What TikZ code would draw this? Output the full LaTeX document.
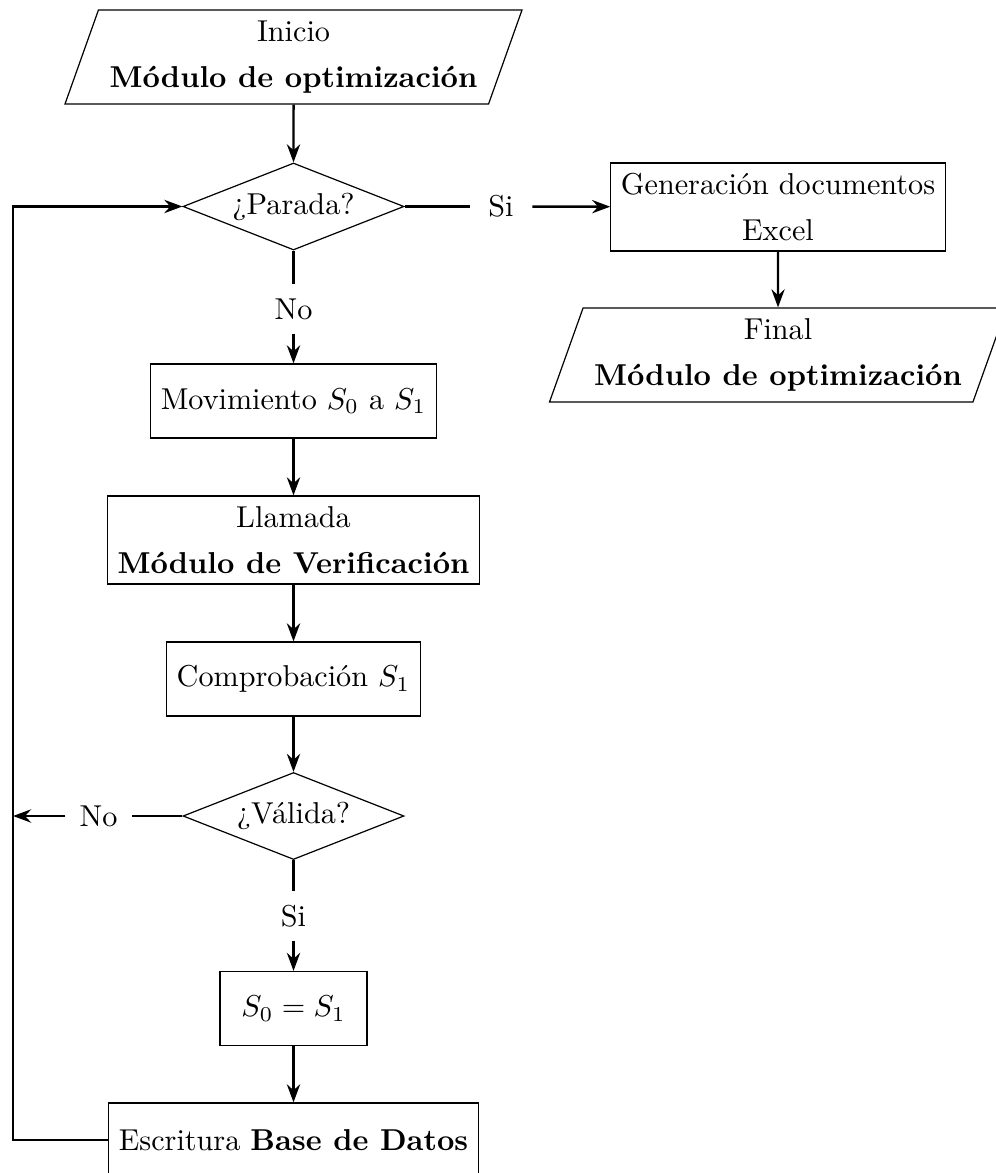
\documentclass[tikz,border=0pt]{standalone}
\usetikzlibrary{shapes.geometric,arrows.meta}
\begin{document}
\def\u{0.3311pt}
\begin{tikzpicture}[x=0.3311pt, y=-0.3311pt,
  box/.style={draw, rectangle, inner sep=3.33pt, align=center, minimum height={74*\u}},
  io/.style={draw, trapezium, trapezium left angle=70, trapezium right angle=110,
    trapezium stretches body, align=center, inner sep=3.33pt,
    minimum width={457*\u}, minimum height={94*\u}},
  dec/.style={draw, diamond, aspect=2.54, inner sep=0pt,
    minimum width={221*\u}, minimum height={87*\u}},
  lbl/.style={inner sep=4.5pt},
  conn/.style={thick, -{Stealth[length=6pt,width=4.4pt,inset=2pt]}},
  plain/.style={thick}
]
\useasboundingbox (0,0) rectangle (996,1173);
\node[io] (start) at (293.5,57) {Inicio\\[3pt]\textbf{Módulo de optimización}};
\node[dec] (parada) at (293.5,206.5) {¿Parada?};
\node[lbl, inner xsep=6pt] (si1) at (501,206.5) {Si};
\node[box, minimum height={88*\u}] (gen) at (778,207) {Generación documentos\\[3pt]Excel};
\node[io] (fin) at (778,355) {Final\\[3pt]\textbf{Módulo de optimización}};
\node[lbl] (no1) at (293.5,309) {No};
\node[box] (mov) at (293.5,401) {Movimiento $S_0$ a $S_1$};
\node[box, minimum height={88*\u}] (llam) at (293.5,540) {Llamada\\[3pt]\textbf{Módulo de Verificación}};
\node[box] (comp) at (293.5,679) {Comprobación $S_1$};
\node[dec] (valida) at (293.5,816) {¿Válida?};
\node[lbl] (no2) at (98.5,816) {No};
\node[lbl] (si2) at (293.5,916) {Si};
\node[box, minimum width={147*\u}] (s0) at (293.5,1008.5) {$S_0 = S_1$};
\node[box] (esc) at (293.5,1140) {Escritura \textbf{Base de Datos}};
\coordinate (lx) at (13,816);

\draw[conn] (start) -- (parada);
\draw[plain] (parada) -- (si1);
\draw[conn] (si1) -- (gen);
\draw[conn] (gen) -- (fin);
\draw[plain] (parada) -- (no1);
\draw[conn] (no1) -- (mov);
\draw[conn] (mov) -- (llam);
\draw[conn] (llam) -- (comp);
\draw[conn] (comp) -- (valida);
\draw[plain] (valida) -- (no2);
\draw[conn] (no2) -- (lx);
\draw[plain] (valida) -- (si2);
\draw[conn] (si2) -- (s0);
\draw[conn] (s0) -- (esc);
\draw[conn] (esc.west) -| (lx) |- (parada.west);
\end{tikzpicture}
\end{document}
